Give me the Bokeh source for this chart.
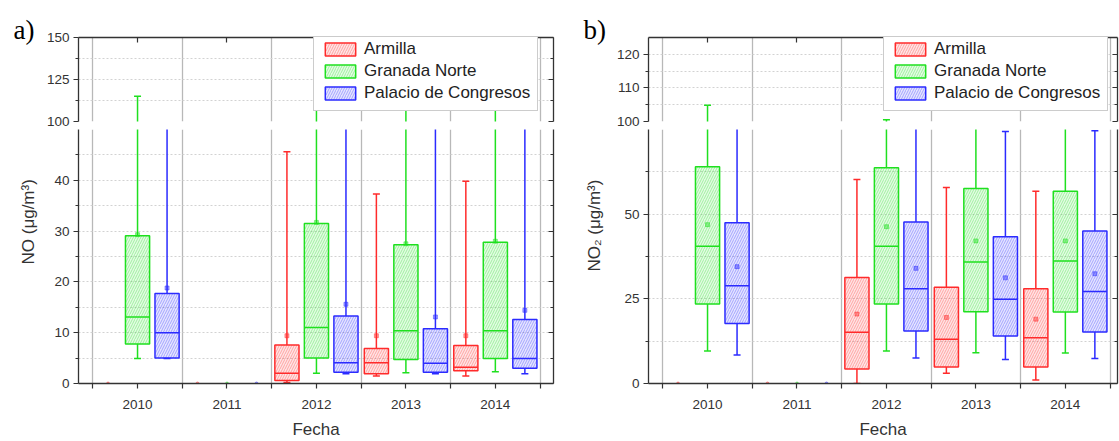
import math
from bokeh.plotting import figure
from bokeh.models import (Range1d, FixedTicker, LinearAxis, Legend, LegendItem, Title,
                          ColumnDataSource)
from bokeh.layouts import row, column
from bokeh.core.properties import value
from bokeh.embed import file_html
from bokeh.resources import INLINE

# ---------------- data ----------------
years = [2010, 2011, 2012, 2013, 2014]
year_labels = ["2010", "2011", "2012", "2013", "2014"]
stations = ["Armilla", "Granada Norte", "Palacio de Congresos"]
x_label = "Fecha"
y_label_no = "NO (μg/m³)"
y_label_no2 = "NO₂ (μg/m³)"

# NO (panel a) -- rows: Armilla, Granada Norte, Palacio de Congresos
NO_MIN = [[None, None, 0.2, 1.5, 1.5], [4.9, None, 2.0, 2.1, 2.3], [4.9, None, 1.9, 1.9, 1.9]]
NO_Q1 = [[None, None, 0.6, 1.9, 2.5], [7.8, None, 5.0, 4.7, 4.9], [5.0, None, 2.2, 2.2, 3.0]]
NO_MED = [[None, None, 2.0, 4.1, 3.2], [13.1, None, 11.0, 10.4, 10.4], [10.0, None, 4.1, 4.0, 4.9]]
NO_Q3 = [[None, None, 7.6, 6.9, 7.5], [29.1, None, 31.5, 27.3, 27.8], [17.7, None, 13.3, 10.8, 12.6]]
NO_MAX = [[None, None, 45.6, 37.3, 39.8], [115.0, None, 140.0, 135.0, 138.0], [92.0, None, 95.0, 90.0, 93.0]]
NO_MEAN = [[None, None, 9.4, 9.4, 9.4], [29.3, None, 31.7, 27.5, 28.0], [18.8, None, 15.6, 13.1, 14.4]]

# NO2 (panel b)
NO2_MIN = [[None, None, 0.0, 3.0, 1.0], [9.6, None, 9.6, 9.1, 9.0], [8.4, None, 7.5, 7.1, 7.4]]
NO2_Q1 = [[None, None, 4.3, 4.9, 4.9], [23.5, None, 23.5, 21.2, 21.1], [17.7, None, 15.5, 14.0, 15.2]]
NO2_MED = [[None, None, 15.1, 13.1, 13.5], [40.5, None, 40.5, 35.9, 36.2], [28.9, None, 28.0, 24.9, 27.2]]
NO2_Q3 = [[None, None, 31.3, 28.4, 28.0], [64.0, None, 63.7, 57.6, 56.8], [47.5, None, 47.7, 43.3, 45.0]]
NO2_MAX = [[None, None, 60.2, 57.9, 56.8], [104.8, None, 100.5, 92.0, 90.0], [85.0, None, 88.0, 74.4, 74.6]]
NO2_MEAN = [[None, None, 20.5, 19.5, 19.0], [46.9, None, 46.3, 42.1, 42.1], [34.5, None, 34.0, 31.2, 32.4]]

# ---------------- style ----------------
COLORS = ["#ff2b2b", "#1fe01f", "#2b2bff"]
OFFSETS = [-0.33, 0.0, 0.33]
BOX_W = 0.27
FONT = "Liberation Sans"
AX = "#333333"
HALVES = [y - 0.5 for y in years] + [years[-1] + 0.5]
UP_H, UP_TOP, UP_BOT = 129, 37, 8
LO_H, LO_BOT = 312, 54
NAN = float("nan")


def nn(v):
    return NAN if v is None else v


def style_axis(ax):
    ax.axis_line_color = AX
    ax.axis_line_width = 1.3
    ax.major_tick_line_color = AX
    ax.minor_tick_line_color = AX
    ax.major_tick_line_width = 1.2
    ax.minor_tick_line_width = 1.2
    ax.major_label_text_font = FONT
    ax.major_label_text_font_size = "13.5px"
    ax.major_label_text_color = AX
    ax.axis_label_text_font = FONT
    ax.axis_label_text_font_style = "normal"
    ax.axis_label_text_font_size = "17px"
    ax.axis_label_text_color = AX


def blank_axis(ticker):
    ax = LinearAxis(ticker=ticker)
    style_axis(ax)
    ax.major_label_overrides = {t: "" for t in ticker.ticks}
    ax.major_label_text_font_size = "0px"
    ax.major_label_standoff = 0
    ax.major_tick_in = 5
    ax.major_tick_out = 0
    ax.minor_tick_in = 3
    ax.minor_tick_out = 0
    return ax


def make_panel(stats, lo_rng, lo_ticks, lo_minor, up_rng, up_ticks, up_minor,
               ylabel, ylab_off, ylab_standoff, tag, width, bl, br, x_end):
    mn_, q1_, med_, q3_, mx_, mean_ = stats
    x_rng = Range1d(2009.34, x_end)
    up = figure(width=width, height=UP_H, x_range=x_rng, y_range=Range1d(*up_rng),
                output_backend="svg", toolbar_location=None, title=tag,
                x_axis_location="above", y_axis_location="left",
                min_border_left=bl, min_border_right=br, min_border_top=UP_TOP,
                min_border_bottom=UP_BOT)
    lo = figure(width=width, height=LO_H, x_range=x_rng, y_range=Range1d(*lo_rng),
                output_backend="svg", toolbar_location=None,
                x_axis_location="below", y_axis_location="left",
                min_border_left=bl, min_border_right=br, min_border_top=0,
                min_border_bottom=LO_BOT)
    for p, rng, tk, mtk in ((up, up_rng, up_ticks, up_minor), (lo, lo_rng, lo_ticks, lo_minor)):
        p.outline_line_color = None
        p.background_fill_color = "white"
        p.border_fill_color = "white"
        style_axis(p.yaxis[0])
        p.yaxis[0].ticker = FixedTicker(ticks=tk, minor_ticks=mtk)
        p.yaxis[0].major_tick_out = 5
        p.yaxis[0].major_tick_in = 0
        p.yaxis[0].minor_tick_out = 3
        p.yaxis[0].minor_tick_in = 0
        p.yaxis[0].major_label_standoff = 4
        p.add_layout(blank_axis(FixedTicker(ticks=tk, minor_ticks=mtk)), "right")
        p.xgrid.ticker = FixedTicker(ticks=HALVES)
        p.xgrid.grid_line_color = "#b8b8b8"
        p.xgrid.grid_line_width = 1.3
        gl = [t for t in sorted(tk + mtk) if rng[0] < t < rng[1]]
        p.ygrid.ticker = FixedTicker(ticks=gl)
        p.ygrid.grid_line_color = "#d2d2d2"
        p.ygrid.grid_line_dash = "2 2"
        p.ygrid.grid_line_width = 1

    # panel tag as the upper figure's title
    up.title.align = "left"
    up.title.offset = -65
    try:
        up.title.standoff = -14
    except Exception:
        up.title.standoff = 0
    up.title.text_font = "Liberation Serif"
    up.title.text_font_size = "27px"
    up.title.text_font_style = "normal"
    up.title.text_color = "black"

    # top axis of upper figure
    ta = up.xaxis[0]
    style_axis(ta)
    ta.ticker = FixedTicker(ticks=years, minor_ticks=HALVES)
    ta.major_label_overrides = {y: "" for y in years}
    ta.major_label_text_font_size = "0px"
    ta.major_label_standoff = 0
    ta.major_tick_in = 5
    ta.major_tick_out = 0
    ta.minor_tick_in = 0
    ta.minor_tick_out = 0

    ba = lo.xaxis[0]
    style_axis(ba)
    ba.ticker = FixedTicker(ticks=years, minor_ticks=HALVES)
    ba.major_label_overrides = dict(zip(years, year_labels))
    ba.major_tick_out = 5
    ba.major_tick_in = 0
    ba.minor_tick_out = 5
    ba.minor_tick_in = 0
    ba.major_label_standoff = 11
    ba.axis_label = x_label
    ba.axis_label_standoff = 8

    lo.add_layout(Title(text=ylabel, align="left", offset=ylab_off, standoff=ylab_standoff,
                        text_font=FONT, text_font_size="17px", text_font_style="normal",
                        text_color=AX), "left")

    boxes = []
    for i, st in enumerate(stations):
        c = COLORS[i]
        xs = [y + OFFSETS[i] for y in years]
        src = ColumnDataSource(dict(
            x=xs,
            mn=[nn(v) for v in mn_[i]], q1=[nn(v) for v in q1_[i]],
            med=[nn(v) for v in med_[i]], q3=[nn(v) for v in q3_[i]],
            mx=[nn(v) for v in mx_[i]], mean=[nn(v) for v in mean_[i]],
            miss=[0.0 if v is None else NAN for v in q1_[i]],
        ))
        # lower (main) segment
        lo.segment(x0="x", y0="mn", x1="x", y1="q1", source=src, line_color=c, line_width=1.5)
        lo.segment(x0="x", y0="q3", x1="x", y1="mx", source=src, line_color=c, line_width=1.5)
        lo.scatter("x", "mn", source=src, marker="dash", size=7, line_color=c, line_width=1.5)
        lo.scatter("x", "mx", source=src, marker="dash", size=7, line_color=c, line_width=1.5)
        box_kw = dict(fill_color=c, fill_alpha=0.12, hatch_pattern="right_diagonal_line",
                      hatch_color=c, hatch_alpha=0.5, hatch_scale=5, hatch_weight=0.7,
                      line_color=c, line_width=1.5)
        lo.vbar(x="x", width=BOX_W, bottom="q1", top="q3", source=src, **box_kw)
        lo.scatter("x", "med", source=src, marker="dash", size=24, line_color=c, line_width=1.5)
        lo.scatter("x", "mean", source=src, marker="square", size=4, line_color=c,
                   fill_color=c, alpha=0.45)
        lo.scatter("x", "miss", source=src, marker="circle", size=3, line_color=c,
                   fill_color=c, alpha=0.45)
        # upper segment: only whiskers that reach it
        reach = [m is not None and m > up_rng[0] for m in mx_[i]]
        src_up = ColumnDataSource(dict(
            x=xs,
            y0=[q3_[i][k] if reach[k] else NAN for k in range(len(years))],
            mx=[mx_[i][k] if reach[k] else NAN for k in range(len(years))],
        ))
        up.segment(x0="x", y0="y0", x1="x", y1="mx", source=src_up, line_color=c, line_width=1.5)
        up.scatter("x", "mx", source=src_up, marker="dash", size=7, line_color=c, line_width=1.5)
        # legend swatch renderer (single NaN row, draws nothing in the plot)
        swatch = ColumnDataSource(dict(x=[NAN], b=[NAN], t=[NAN]))
        boxes.append(up.vbar(x="x", width=BOX_W, bottom="b", top="t", source=swatch, **box_kw))

    legend = Legend(items=[LegendItem(label=value(s), renderers=[boxes[i]], index=0)
                           for i, s in enumerate(stations)],
                    location=(235, 10), border_line_color="#9a9a9a", border_line_width=1,
                    background_fill_color="white", background_fill_alpha=1.0,
                    label_text_font=FONT, label_text_font_size="17px", label_text_color="#222222",
                    glyph_width=38, glyph_height=16, label_height=19, label_standoff=5,
                    spacing=2, padding=7, margin=0)
    up.add_layout(legend, "center")
    return column(up, lo)


pa = make_panel((NO_MIN, NO_Q1, NO_MED, NO_Q3, NO_MAX, NO_MEAN),
                (0, 50), [0, 10, 20, 30, 40], [5, 15, 25, 35, 45],
                (100, 150), [100, 125, 150], [112.5, 137.5],
                y_label_no, 119, 28, "a)", 559, 78, 6, 2014.65)
pb = make_panel((NO2_MIN, NO2_Q1, NO2_MED, NO2_Q3, NO2_MAX, NO2_MEAN),
                (0, 75), [0, 25, 50], [12.5, 37.5, 62.5],
                (100, 125), [100, 110, 120], [105, 115],
                y_label_no2, 112, 36, "b)", 560, 89, 2, 2014.583)

layout = row(pa, pb)
open("out.html", "w").write(file_html(layout, INLINE))
